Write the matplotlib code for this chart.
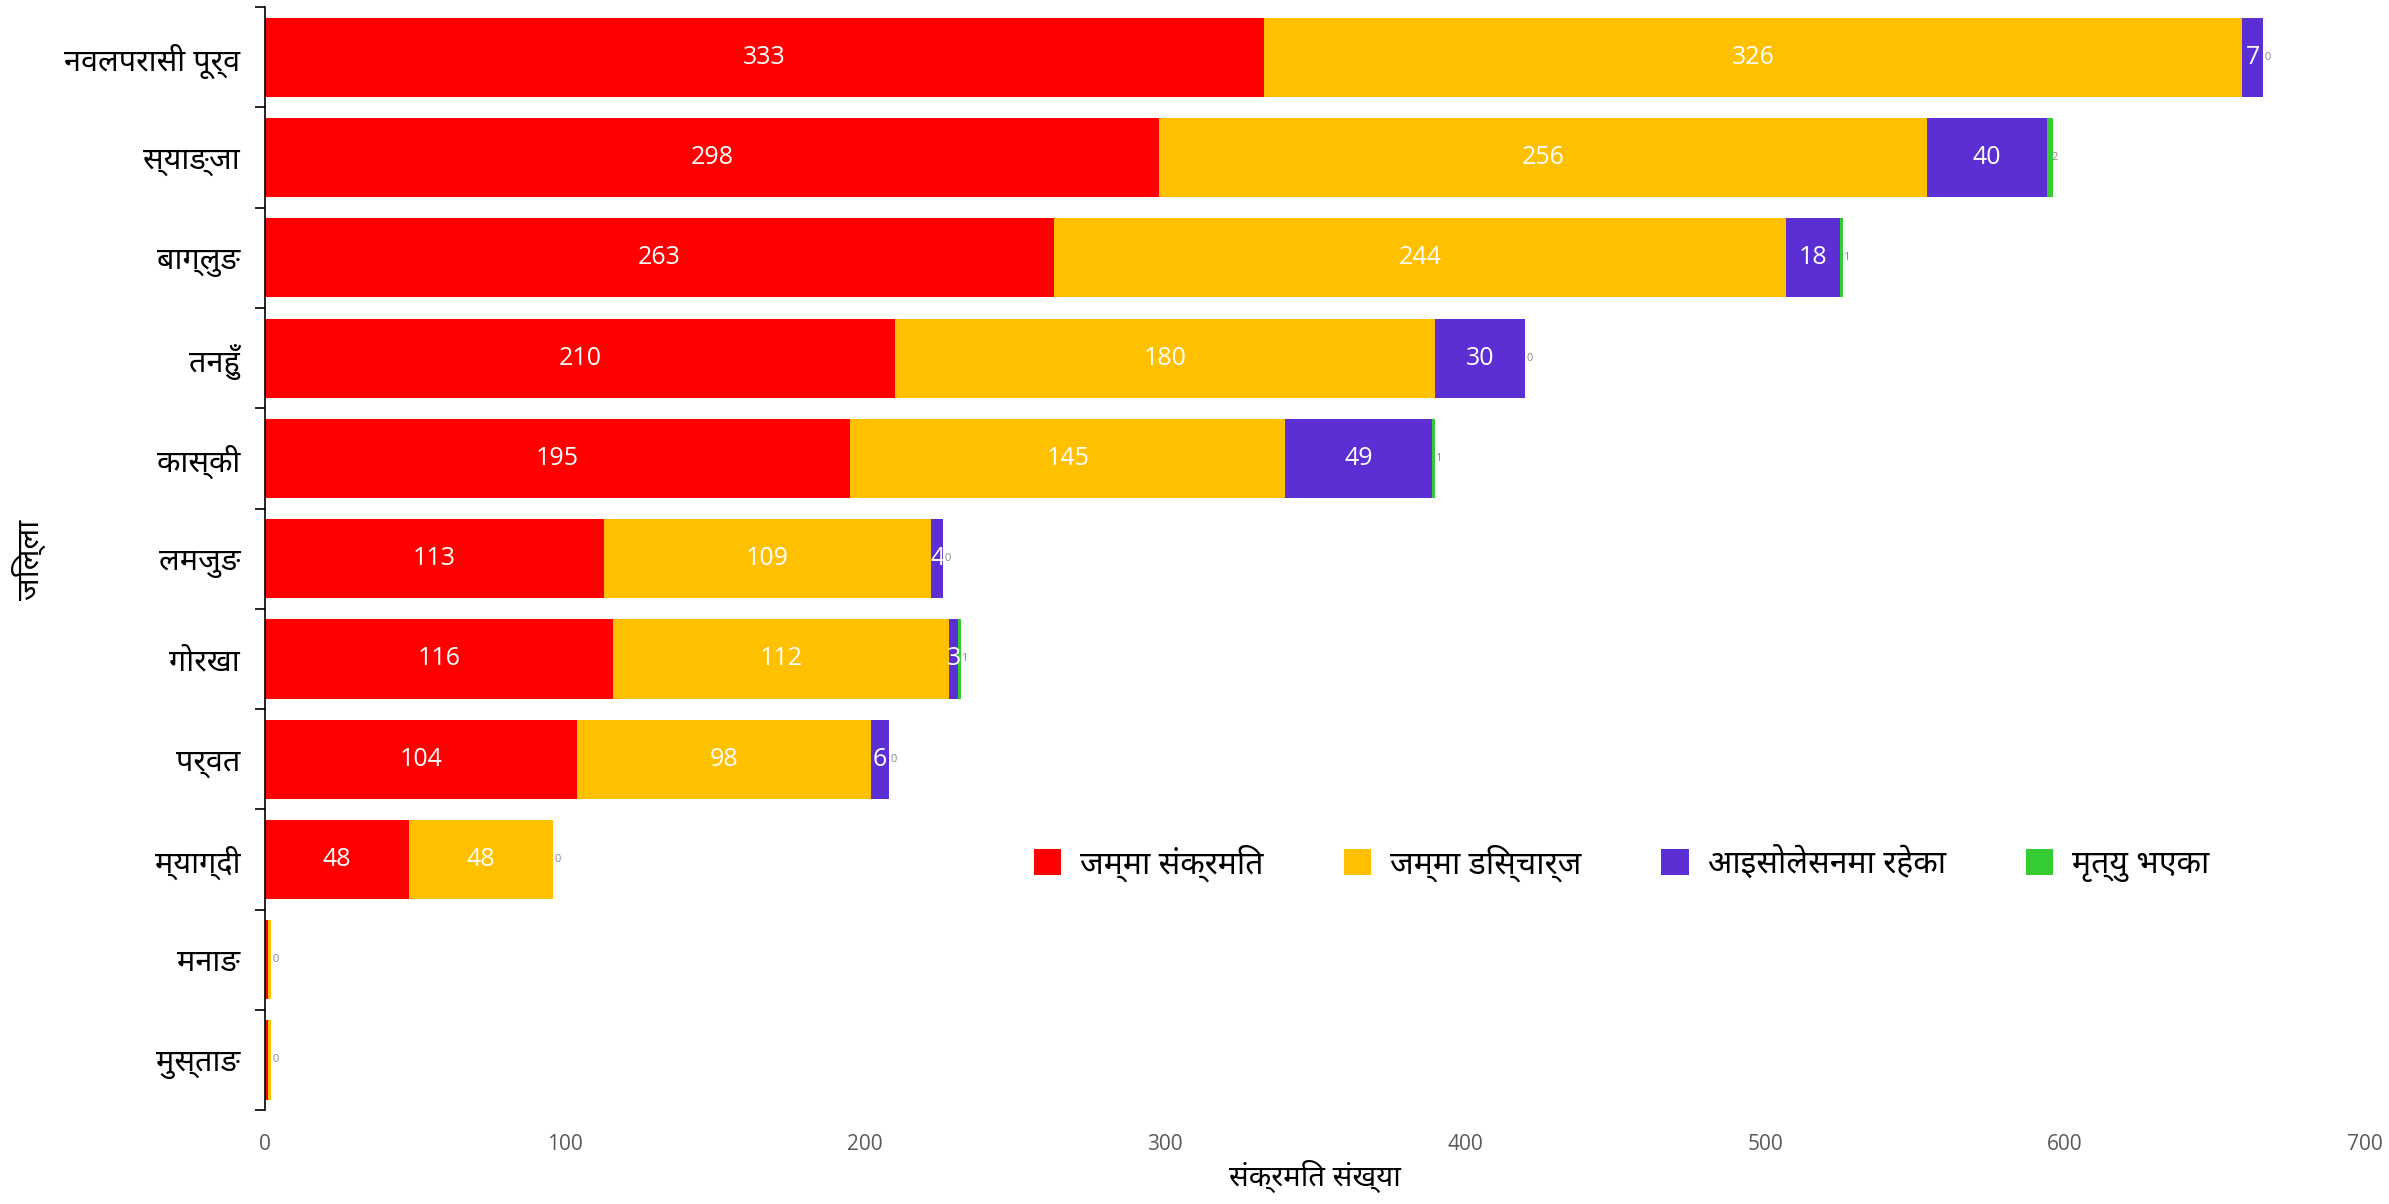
import matplotlib
matplotlib.use("Agg")
import matplotlib.pyplot as plt
from matplotlib import font_manager
from matplotlib.ft2font import FT2Font
import numpy as np

# data: districts top to bottom
districts = ["नवलपरासी पूर्व", "स्याङ्जा", "बाग्लुङ", "तनहुँ", "कास्की", "लमजुङ",
             "गोरखा", "पर्वत", "म्याग्दी", "मनाङ", "मुस्ताङ"]
confirmed = [333, 298, 263, 210, 195, 113, 116, 104, 48, 1, 1]
discharged = [326, 256, 244, 180, 145, 109, 112, 98, 48, 1, 1]
isolation = [7, 40, 18, 30, 49, 4, 3, 6, 0, 0, 0]
deaths = [0, 2, 1, 0, 1, 0, 1, 0, 0, 0, 0]

series_names = ["जम्मा संक्रमित", "जम्मा डिस्चार्ज", "आइसोलेसनमा रहेका", "मृत्यु भएका"]
colors = ["#FF0000", "#FFC000", "#5B2FD3", "#33CC33"]


def find_deva_font():
    # look for installed fonts that have Devanagari glyphs, prefer Noto
    found = []
    for f in font_manager.fontManager.ttflist:
        try:
            cmap = FT2Font(f.fname).get_charmap()
        except Exception:
            continue
        if 0x0928 in cmap and 0x093F in cmap:
            found.append(f.name)
    for pref in ["Noto Sans Devanagari", "Noto Sans Devanagari UI", "Mukta", "Lohit Devanagari"]:
        if pref in found:
            return pref
    return found[0] if found else None


deva = find_deva_font()
fam = [deva, "DejaVu Sans"] if deva else ["DejaVu Sans"]
num_fam = ["Open Sans", "DejaVu Sans"]

fig = plt.figure(figsize=(23.89, 12.04), dpi=100)
ax = fig.add_axes([0.111, 0.078, 0.879, 0.916])

y = np.arange(len(districts))
left = np.zeros(len(districts))
values = [confirmed, discharged, isolation, deaths]
for i, (name, vals, c) in enumerate(zip(series_names, values, colors)):
    vals = np.array(vals, dtype=float)
    bars = ax.barh(y, vals, left=left, height=0.79, color=c, label=name)
    for k, (b, v, l) in enumerate(zip(bars, vals, left)):
        cy = b.get_y() + b.get_height() / 2
        if v < 2 and i < 2:
            # tiny segments: white label would be invisible anyway
            continue
        if i == 3 or v == 0:
            if i == 3 and v == 0 and isolation[k] == 0:
                continue
            ax.text(l + v / 2 + 1.5, cy, f"{int(v)}", ha="center", va="center",
                    fontsize=8, color="#888888", family=num_fam)
        else:
            ax.text(l + v / 2, cy, f"{int(v)}", ha="center", va="center",
                    fontsize=18, color="white", family=num_fam)
    left += vals

ax.set_ylim(len(districts) - 0.5, -0.5)
ax.set_xlim(0, 700)
ax.set_yticks(y)
ax.set_yticklabels(districts, family=fam, fontsize=22)
ax.set_yticks(np.arange(-0.5, len(districts)), minor=True)
ax.tick_params(axis="y", which="major", length=0, pad=18)
ax.tick_params(axis="y", which="minor", length=7, width=1.2)
ax.set_xticks(np.arange(0, 701, 100))
ax.tick_params(axis="x", length=0, pad=17, labelsize=15, labelcolor="#595959")
for lbl in ax.get_xticklabels():
    lbl.set_family(num_fam)

for s in ["top", "right", "bottom"]:
    ax.spines[s].set_visible(False)
ax.spines["left"].set_linewidth(1.2)

ax.set_xlabel("संक्रमित संख्या", family=fam, fontsize=21, labelpad=4)
fig.text(0.012, 0.535, "जिल्ला", family=fam, fontsize=22, rotation=90,
         ha="center", va="center")

ax.legend(loc="center", bbox_to_anchor=(0.646, 0.224), ncol=4, frameon=False,
          prop={"family": fam, "size": 23}, handlelength=0.85, handleheight=0.85,
          columnspacing=2.5, handletextpad=0.6)

fig.savefig("out.png", dpi=100)
